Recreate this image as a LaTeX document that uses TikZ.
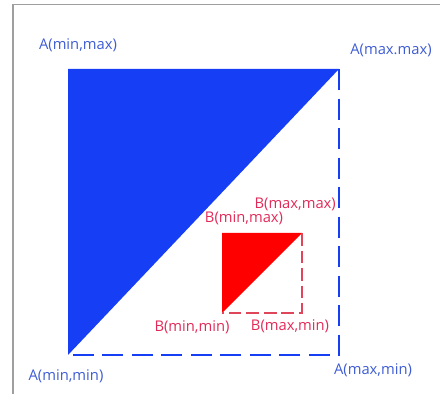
\documentclass[tikz,border=0pt]{standalone}
\usepackage{fontspec}
\setmainfont{Open Sans}
\usetikzlibrary{positioning,calc}
\usepackage{xcolor}

\definecolor{afill}{RGB}{22,62,245}
\definecolor{atext}{RGB}{62,92,212}
\definecolor{bfill}{RGB}{255,0,0}
\definecolor{btext}{RGB}{226,42,88}
\definecolor{bline}{RGB}{224,70,90}

\begin{document}
\begin{tikzpicture}[
    alabel/.style={font=\fontsize{10.5}{12}\selectfont,text=atext,inner sep=0pt},
    blabel/.style={font=\fontsize{10.5}{12}\selectfont,text=btext,inner sep=0pt},
    aedge/.style={afill,line width=0.9pt,dash pattern=on 15pt off 6pt},
    bedge/.style={bline,line width=0.9pt,dash pattern=on 9pt off 3.5pt},
    frameline/.style={gray!75,line width=0.8pt},
]
\useasboundingbox (0,0) rectangle (11,9.85);

% corners of box A and box B
\coordinate (Aminmin) at (1.7,0.975);
\coordinate (Amaxmin) at (8.475,0.975);
\coordinate (Aminmax) at (1.7,8.125);
\coordinate (Amaxmax) at (8.475,8.125);
\coordinate (Bminmin) at (5.55,2.025);
\coordinate (Bmaxmin) at (7.55,2.025);
\coordinate (Bminmax) at (5.55,4.025);
\coordinate (Bmaxmax) at (7.55,4.025);

% window frame
\coordinate (fbot) at (0.325,0);
\coordinate (fcorner) at (0.325,9.733);
\coordinate (fright) at (11,9.733);
\draw[frameline] (fbot) -- (fcorner) -- (fright);

% filled halves
\fill[afill] (Aminmin) -- (Aminmax) -- (Amaxmax) -- cycle;
\fill[bfill] (Bminmin) -- (Bminmax) -- (Bmaxmax) -- cycle;

% dashed outer edges
\draw[aedge] (Amaxmax) -- (Amaxmin) -- (Aminmin);
\draw[bedge] (Bmaxmax) -- (Bmaxmin) -- (Bminmin);

% corner labels
\node[alabel] (lAminmax) at (1.95,8.725)  {A(min,max)};
\node[alabel] (lAmaxmax) at (9.775,8.6)   {A(max.max)};
\node[alabel] (lAminmin) at (1.65,0.45)   {A(min,min)};
\node[alabel] (lAmaxmin) at (9.325,0.6)   {A(max,min)};
\node[blabel] (lBmaxmax) at (7.38,4.75)   {B(max,max)};
\node[blabel] (lBminmax) at (6.1,4.4)     {B(min,max)};
\node[blabel] (lBminmin) at (4.8,1.675)   {B(min,min)};
\node[blabel] (lBmaxmin) at (7.25,1.7)    {B(max,min)};
\end{tikzpicture}
\end{document}
